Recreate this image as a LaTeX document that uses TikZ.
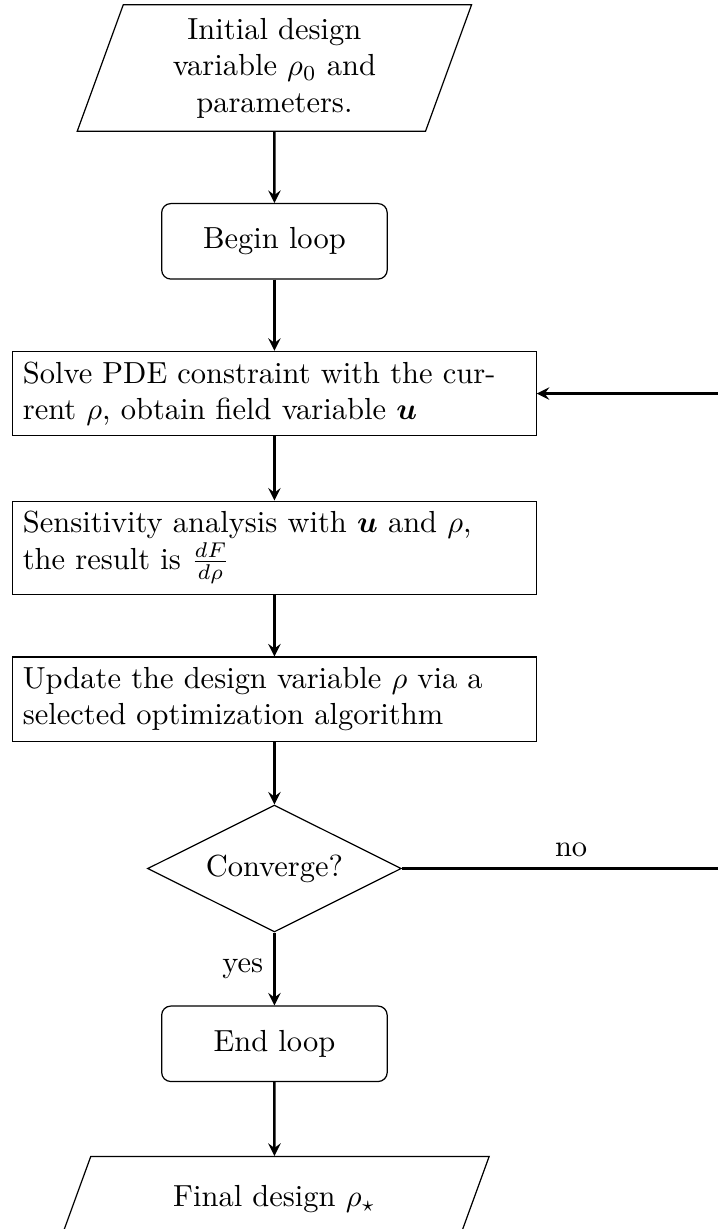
\documentclass[tikz,border=0pt]{standalone}
\usepackage{amsmath}
\usepackage{tikz}
\usetikzlibrary{positioning}
\usetikzlibrary{shapes.geometric}
\usetikzlibrary{arrows}

\tikzset{
  io/.style={trapezium, trapezium left angle=70, trapezium right angle=110, draw, align=center},
  loopbox/.style={rectangle, rounded corners=3pt, draw, minimum width=2.6cm, minimum height=0.87cm},
  procbox/.style={rectangle, draw, text width=5.8cm},
  decision/.style={diamond, aspect=2, draw},
  flow/.style={->, >=stealth, thick},
}

\begin{document}
\begin{tikzpicture}[node distance=0.84cm]
  \useasboundingbox (0,0) rectangle (235.2pt,-403.1pt);
  \node[io, text width=3.25cm, inner ysep=4.3pt] (init) at (90pt,-22.3pt) {Initial design variable $\rho_0$ and parameters.};
  \node[loopbox, below=0.82cm of init] (begin) {Begin loop};
  \node[procbox, below=0.82cm of begin] (solve) {Solve PDE constraint with the current $\rho$, obtain field variable $\boldsymbol{u}$};
  \node[procbox, below=0.74cm of solve] (sens) {Sensitivity analysis with $\boldsymbol{u}$ and $\rho$,\\ the result is $\frac{dF}{d\rho}$};
  \node[procbox, below=0.71cm of sens] (update) {Update the design variable $\rho$ via a selected optimization algorithm};
  \node[decision, below=0.72cm of update] (conv) {Converge?};
  \node[loopbox, below=of conv] (endloop) {End loop};
  \node[io, text width=4cm, inner ysep=9.5pt, below=0.85cm of endloop] (final) {Final design $\rho_\star$};
  \coordinate[right=3.9cm of conv.east] (back);

  \draw[flow] (init) -- (begin);
  \draw[flow] (begin) -- (solve);
  \draw[flow] (solve) -- (sens);
  \draw[flow] (sens) -- (update);
  \draw[flow] (update) -- (conv);
  \draw[flow] (conv) -- node[left] {yes} (endloop);
  \draw[flow] (endloop) -- (final);
  \draw[flow] (conv.east) -- node[above] {no} (back) |- (solve.east);
\end{tikzpicture}
\end{document}
